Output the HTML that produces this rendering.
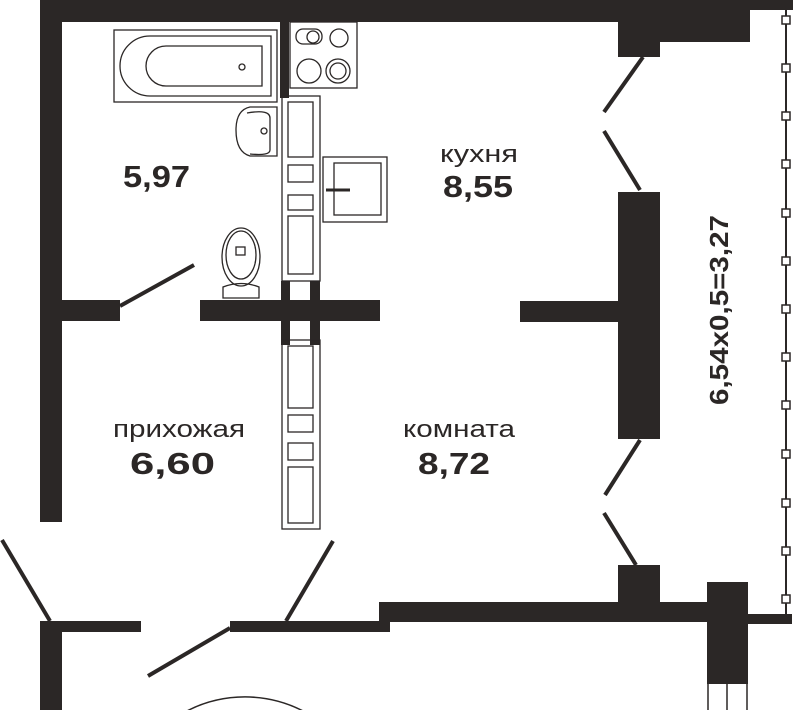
<!DOCTYPE html>
<html><head><meta charset="utf-8"><style>
html,body{margin:0;padding:0;background:#fff;}
svg{display:block;}
text{font-family:"Liberation Sans",sans-serif;fill:#2b2726;}
</style></head><body>
<svg width="793" height="710" viewBox="0 0 793 710" xmlns="http://www.w3.org/2000/svg">
<g fill="#2b2726">
<rect x="40" y="0" width="753" height="10"/>
<rect x="40" y="0" width="710" height="22"/>
<rect x="618" y="0" width="42" height="57"/>
<rect x="660" y="0" width="90" height="42"/>
<rect x="40" y="0" width="22" height="522"/>
<rect x="280" y="22" width="9" height="76"/>
<rect x="40" y="300" width="80" height="21"/>
<rect x="200" y="300" width="180" height="21"/>
<rect x="520" y="301" width="100" height="21"/>
<rect x="618" y="192" width="42" height="247"/>
<rect x="281" y="281" width="9" height="64"/>
<rect x="310" y="281" width="10" height="64"/>
<rect x="40" y="621" width="101" height="11"/>
<rect x="40" y="621" width="22" height="89"/>
<rect x="230" y="621" width="160" height="11"/>
<rect x="379" y="602" width="330" height="20"/>
<rect x="618" y="565" width="42" height="40"/>
<rect x="707" y="582" width="41" height="102"/>
<rect x="748" y="614" width="44" height="10"/>
</g>
<g stroke="#2b2726" fill="none">
<line x1="708" y1="684" x2="708" y2="710" stroke-width="1.5"/>
<line x1="727" y1="684" x2="727" y2="710" stroke-width="1.5"/>
<line x1="747" y1="684" x2="747" y2="710" stroke-width="1.5"/>
<g stroke-width="4">
<line x1="120" y1="306" x2="194" y2="265"/>
<line x1="643" y1="57" x2="604" y2="112"/>
<line x1="604" y1="131" x2="640" y2="190"/>
<line x1="640" y1="440" x2="605" y2="495"/>
<line x1="604" y1="513" x2="636" y2="565"/>
<line x1="2" y1="540" x2="50" y2="621"/>
<line x1="333" y1="541" x2="286" y2="621"/>
<line x1="148" y1="676" x2="230" y2="628"/>
</g>
<path d="M 185 712 A 127 127 0 0 1 305 712" stroke-width="1.5"/>
<line x1="786" y1="10" x2="786" y2="614" stroke-width="2"/>
</g>
<g fill="#fff" stroke="#2b2726" stroke-width="1.5">
<rect x="782" y="16" width="8" height="8"/><rect x="782" y="64" width="8" height="8"/>
<rect x="782" y="112" width="8" height="8"/><rect x="782" y="160" width="8" height="8"/>
<rect x="782" y="209" width="8" height="8"/><rect x="782" y="257" width="8" height="8"/>
<rect x="782" y="305" width="8" height="8"/><rect x="782" y="353" width="8" height="8"/>
<rect x="782" y="401" width="8" height="8"/><rect x="782" y="450" width="8" height="8"/>
<rect x="782" y="499" width="8" height="8"/><rect x="782" y="547" width="8" height="8"/>
<rect x="782" y="595" width="8" height="8"/>
</g>
<g fill="none" stroke="#2b2726" stroke-width="1.3">
<rect x="114" y="30" width="163" height="72"/>
<path d="M150 36 H271 V96 H150 A30 30 0 0 1 150 36 Z"/>
<path d="M166 46 H262 V86 H166 A20 20 0 0 1 166 46 Z"/>
<circle cx="242" cy="67" r="3"/>
<path d="M277 107 H250 Q236 110 236 130 Q236 152 250 156 H277 Z"/>
<path d="M247 113 Q270 109 270 118 V150 Q270 156 250 154"/>
<circle cx="264" cy="131" r="3"/>
<ellipse cx="241" cy="257" rx="19" ry="29"/>
<ellipse cx="241" cy="255" rx="15" ry="24"/>
<rect x="236" y="247" width="9" height="8"/>
<path d="M223 298 V287 Q241 280 259 287 V298 Z"/>
<rect x="290" y="22" width="67" height="66"/>
<rect x="296" y="29" width="26" height="15" rx="7"/>
<circle cx="313" cy="37" r="6"/>
<circle cx="339" cy="38" r="9"/>
<circle cx="309" cy="71" r="12"/>
<circle cx="338" cy="71" r="12"/>
<circle cx="338" cy="71" r="8"/>
<rect x="323" y="157" width="64" height="65"/>
<rect x="334" y="163" width="47" height="52"/>
<line x1="326" y1="190" x2="350" y2="190" stroke-width="3"/>
<rect x="282" y="96" width="38" height="185"/>
<rect x="288" y="102" width="25" height="55"/>
<rect x="288" y="165" width="25" height="17"/>
<rect x="288" y="195" width="25" height="15"/>
<rect x="288" y="216" width="25" height="58"/>
<rect x="282" y="340" width="38" height="189"/>
<rect x="288" y="346" width="25" height="62"/>
<rect x="288" y="415" width="25" height="17"/>
<rect x="288" y="443" width="25" height="17"/>
<rect x="288" y="467" width="25" height="56"/>
</g>
<text x="123" y="187" font-size="31" font-weight="bold" textLength="67" lengthAdjust="spacingAndGlyphs">5,97</text>
<text x="440" y="162" font-size="24" textLength="78" lengthAdjust="spacingAndGlyphs">кухня</text>
<text x="443" y="197" font-size="31" font-weight="bold" textLength="70" lengthAdjust="spacingAndGlyphs">8,55</text>
<text x="113" y="437" font-size="24" textLength="132" lengthAdjust="spacingAndGlyphs">прихожая</text>
<text x="130" y="474" font-size="31" font-weight="bold" textLength="85" lengthAdjust="spacingAndGlyphs">6,60</text>
<text x="403" y="437" font-size="24" textLength="112" lengthAdjust="spacingAndGlyphs">комната</text>
<text x="418" y="474" font-size="31" font-weight="bold" textLength="72" lengthAdjust="spacingAndGlyphs">8,72</text>
<text transform="translate(728,405) rotate(-90)" font-size="26" font-weight="bold" textLength="190" lengthAdjust="spacingAndGlyphs">6,54x0,5=3,27</text>
</svg>
</body></html>
